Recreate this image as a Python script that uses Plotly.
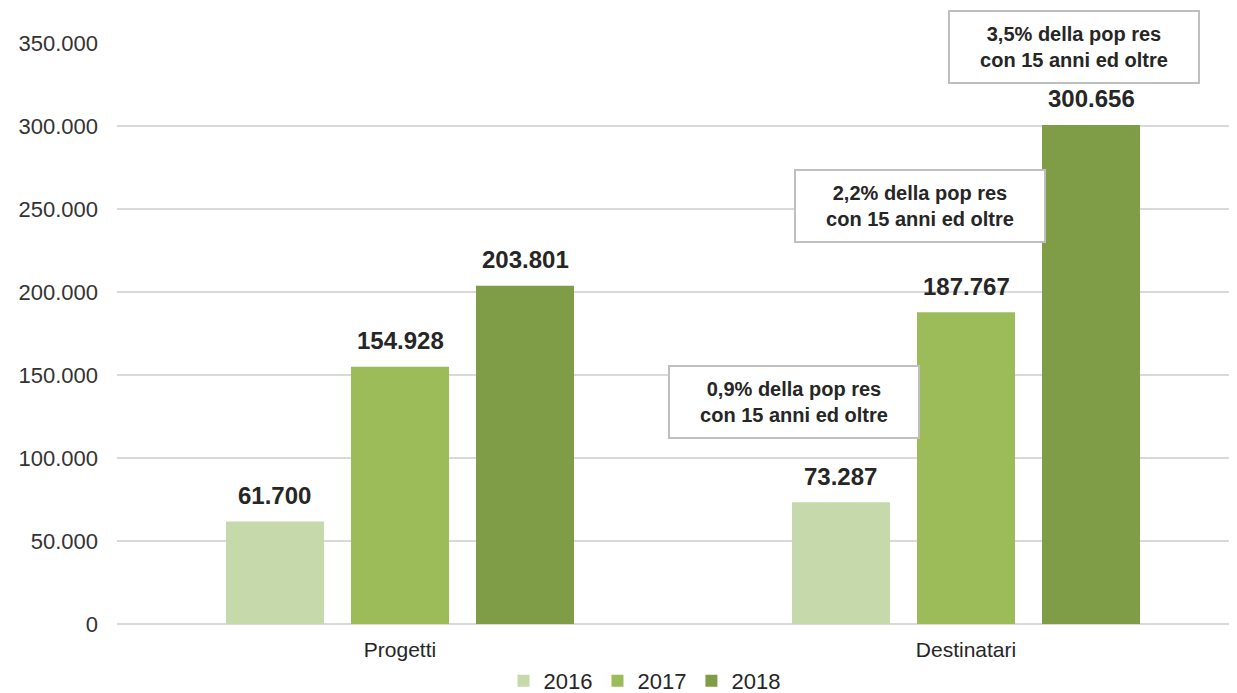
import plotly.graph_objects as go

categories = ["Progetti", "Destinatari"]
years = ["2016", "2017", "2018"]
values_2016 = [61700, 73287]
values_2017 = [154928, 187767]
values_2018 = [203801, 300656]
colors = ["#c6d9aa", "#9cbb59", "#7f9c46"]

box_texts = ["0,9% della pop res<br>con 15 anni ed oltre",
             "2,2% della pop res<br>con 15 anni ed oltre",
             "3,5% della pop res<br>con 15 anni ed oltre"]
box_x = [0.696, 0.919, 1.191]
box_y = [133700, 252100, 347600]

FONT = "Liberation Sans, Arial"

def fmt(v):
    return f"{v:,}".replace(",", ".")

fig = go.Figure()
series = [values_2016, values_2017, values_2018]
for name, vals, col in zip(years, series, colors):
    fig.add_trace(go.Bar(name=name, x=categories, y=vals, marker_color=col,
                         marker_line_width=0, hoverinfo="skip"))

# data labels
offsets = [-1, 0, 1]
for vals, off in zip(series, offsets):
    for i, v in enumerate(vals):
        fig.add_annotation(x=i + off * 0.221, y=v, text="<b>" + fmt(v) + "</b>",
                           showarrow=False, yshift=26, xref="x", yref="y",
                           font=dict(size=24, color="#262626", family=FONT))

for t, bx, by in zip(box_texts, box_x, box_y):
    fig.add_annotation(x=bx, y=by, text="<b>" + t + "</b>", showarrow=False,
                       xref="x", yref="y", bgcolor="white", bordercolor="#bfbfbf",
                       borderwidth=2, borderpad=2, width=244, height=66,
                       font=dict(size=20, color="#262626", family=FONT))

fig.update_layout(
    width=1229, height=685,
    margin=dict(l=109, r=0, t=35, b=69, autoexpand=False),
    plot_bgcolor="white", paper_bgcolor="white",
    barmode="group", bargap=0.3375, bargroupgap=0.216,
    separators=",.",
    font=dict(family=FONT, size=20, color="#262626"),
    showlegend=True,
    legend=dict(orientation="h", x=0.471, xanchor="center", y=-0.098, yanchor="middle",
                font=dict(size=22, color="#262626"), itemwidth=30, traceorder="normal",
                tracegroupgap=0),
    xaxis=dict(range=[-0.5, 1.4788], showgrid=False, zeroline=False, automargin=False,
               showline=False, ticks="", tickfont=dict(size=21), ticklabelstandoff=11),
    yaxis=dict(range=[0, 350000], dtick=50000, tickformat=",d", showgrid=True,
               gridcolor="#d9d9d9", gridwidth=1.5, zeroline=True, zerolinecolor="#d9d9d9",
               zerolinewidth=1.5, showline=False, ticks="", tickfont=dict(size=22, color="#333333"),
               ticklabelstandoff=18, automargin=False),
)

fig.write_html("out.html")
